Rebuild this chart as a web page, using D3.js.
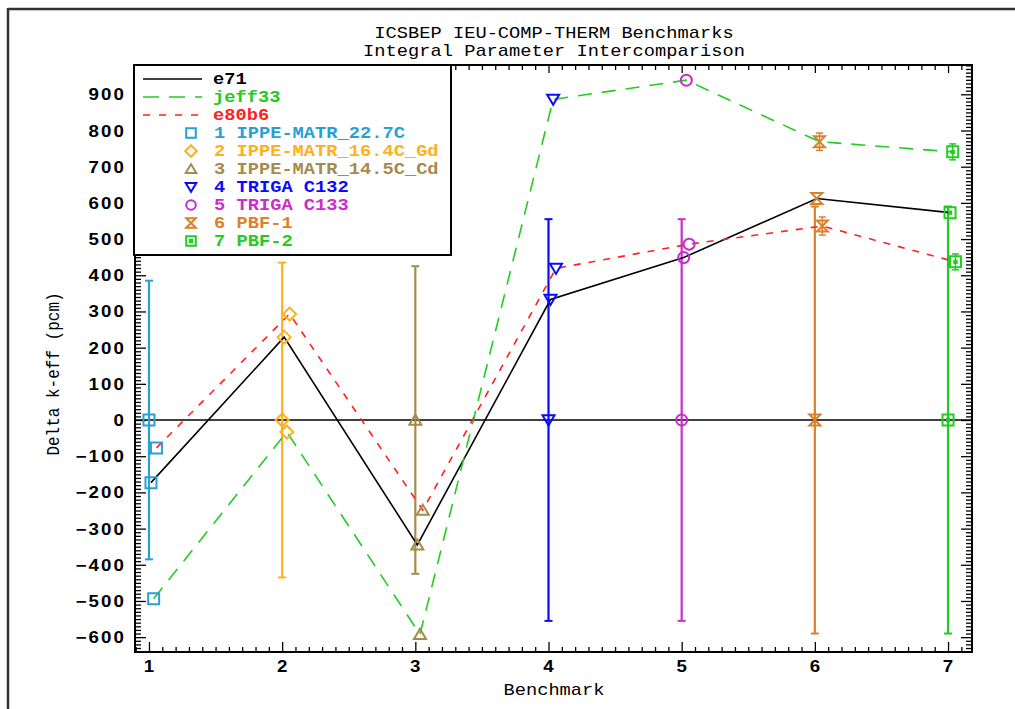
<!DOCTYPE html>
<html><head><meta charset="utf-8">
<script src="https://cdn.jsdelivr.net/npm/d3@7"></script>
<style>html,body{margin:0;padding:0;background:#fff;}svg{display:block;}</style>
</head><body>
<svg id="chart" width="1015" height="709"></svg>
<script>
// ---------- data ----------
const benchmarks = [1, 2, 3, 4, 5, 6, 7];
const benchNames = ["IPPE-MATR_22.7C", "IPPE-MATR_16.4C_Gd", "IPPE-MATR_14.5C_Cd", "TRIGA C132", "TRIGA C133", "PBF-1", "PBF-2"];
const benchColors = ["#2a9fd6", "#ffb020", "#a58c4c", "#0a0aff", "#cc2ccc", "#d9822b", "#22cc22"];
const expValues = [0, 0, 0, 0, 0, 0, 0];
const expErrors = [385, 435, 425, 555, 555, 590, 590];
const e71Values = [-173, 229, -345, 333, 449, 612, 573];
const jeff33Values = [-494, -33, -592, 886, 939, 769, 741];
const jeff33Errors = [0, 0, 0, 0, 0, 24, 22];
const e80b6Values = [-77, 293, -249, 419, 486, 536, 437];
const e80b6Errors = [0, 0, 0, 0, 0, 25, 22];
const seriesNames = ["e71", "jeff33", "e80b6"];
const seriesColors = ["#000000", "#22cc22", "#ff2020"];
const yTickLabels = [-600, -500, -400, -300, -200, -100, 0, 100, 200, 300, 400, 500, 600, 700, 800, 900];
const xTickLabels = [1, 2, 3, 4, 5, 6, 7];
const titleLines = ["ICSBEP IEU-COMP-THERM Benchmarks", "Integral Parameter Intercomparison"];

// ---------- layout ----------
const svg = d3.select("#chart");
const L = 135, R = 972, T = 65, B = 652;
const SX = 1.17; // horizontal stretch of the original fonts
const x = d3.scaleLinear().domain([0.895, 7.18]).range([L, R]);
const y = d3.scaleLinear().domain([-641, 981]).range([B, T]);
const seriesOffset = [0.015, 0.035, 0.056];
const MONO = "'Liberation Mono', 'DejaVu Sans Mono', monospace";

function stext(g, px, py, str, opts) {
  opts = opts || {};
  const grp = g.append("g").attr("transform", `translate(${px},${py}) scale(${SX},1)` + (opts.rotate ? ` rotate(${opts.rotate})` : ""));
  const t = grp.append("text").attr("x", 0).attr("y", 0)
    .attr("font-family", opts.family || MONO)
    .attr("font-size", opts.size || 16)
    .attr("font-weight", opts.weight || "normal")
    .attr("fill", opts.fill || "#000")
    .attr("text-anchor", opts.anchor || "start")
    .text(str);
  if (opts.spacing) t.attr("letter-spacing", opts.spacing);
  return t;
}

function markerPath(i, s) {
  switch (i) {
    case 0: return `M${-s},${-s}H${s}V${s}H${-s}Z`;
    case 1: return `M0,${-s - 1}L${s + 1},0L0,${s + 1}L${-s - 1},0Z`;
    case 2: return `M0,${-s}L${s + 0.5},${s * 0.85}L${-s - 0.5},${s * 0.85}Z`;
    case 3: return `M${-s - 0.5},${-s * 0.85}L${s + 0.5},${-s * 0.85}L0,${s}Z`;
    case 4: return `M${-s},0A${s},${s} 0 1,0 ${s},0A${s},${s} 0 1,0 ${-s},0Z`;
    case 5: return `M${-s},${-s}H${s}L${-s},${s}H${s}Z`;
    case 6: return `M${-s},${-s}H${s}V${s}H${-s}Z M-1.2,-1.2H1.2V1.2H-1.2Z`;
  }
}
function drawMarker(g, i, cx, cy, s) {
  g.append("path").attr("d", markerPath(i, s || 5.5))
    .attr("transform", `translate(${cx},${cy})`)
    .attr("fill", "none").attr("stroke", benchColors[i]).attr("stroke-width", 2);
}

// ---------- outer frame ----------
svg.append("line").attr("x1", 8).attr("x2", 8).attr("y1", 8).attr("y2", 709).attr("stroke", "#333").attr("stroke-width", 2.5);
svg.append("line").attr("x1", 8).attr("x2", 1015).attr("y1", 9).attr("y2", 9).attr("stroke", "#333").attr("stroke-width", 2.5);

// ---------- title ----------
titleLines.forEach((s, k) => stext(svg, 554, 38 + k * 18, s, { anchor: "middle", size: 16 }));

// ---------- axes ticks ----------
const majY = yTickLabels;
const minY = d3.range(-640, 981, 10).filter(v => v % 100 !== 0);
const majX = xTickLabels;
const minX = d3.range(9, 72, 1).map(v => v / 10).filter(v => Math.abs(v - Math.round(v)) > 1e-6);

function tickAxis(axisFn, scale, vals, size, tr) {
  const g = svg.append("g").attr("transform", tr)
    .call(axisFn(scale).tickValues(vals).tickSize(-size).tickFormat(""));
  g.select(".domain").remove();
  g.selectAll("line").attr("stroke", "#000").attr("stroke-width", 1.3);
}
tickAxis(d3.axisLeft, y, majY, 11, `translate(${L},0)`);
tickAxis(d3.axisLeft, y, minY, 6, `translate(${L},0)`);
tickAxis(d3.axisRight, y, majY, 11, `translate(${R},0)`);
tickAxis(d3.axisRight, y, minY, 6, `translate(${R},0)`);
tickAxis(d3.axisBottom, x, majX, 10, `translate(0,${B})`);
tickAxis(d3.axisBottom, x, minX, 5, `translate(0,${B})`);
tickAxis(d3.axisTop, x, majX, 8, `translate(0,${T})`);
tickAxis(d3.axisTop, x, minX, 5, `translate(0,${T})`);

// tick labels
yTickLabels.forEach(v => stext(svg, 126, y(v) + 6, v < 0 ? "\u2212" + Math.abs(v) : String(v),
  { anchor: "end", family: "'Liberation Sans', Arial, sans-serif", weight: "bold", size: 16, spacing: 1.8 }));
xTickLabels.forEach(v => stext(svg, x(v), 672, String(v),
  { anchor: "middle", family: "'Liberation Sans', Arial, sans-serif", weight: "bold", size: 16 }));

// axis titles
stext(svg, 554, 695, "Benchmark", { anchor: "middle", size: 16 });
stext(svg, 59, 374, "Delta k-eff (pcm)", { anchor: "middle", size: 16, rotate: -90 });

// ---------- plot ----------
const plot = svg.append("g");
// zero line
plot.append("line").attr("x1", L).attr("x2", R).attr("y1", y(0)).attr("y2", y(0))
  .attr("stroke", "#000").attr("stroke-width", 1.5);

// experimental error bars
benchmarks.forEach((b, i) => {
  const cx = x(b), c = benchColors[i];
  const y1 = y(expValues[i] + expErrors[i]), y2 = y(expValues[i] - expErrors[i]);
  plot.append("line").attr("x1", cx).attr("x2", cx).attr("y1", y1).attr("y2", y2).attr("stroke", c).attr("stroke-width", 2.2);
  [y1, y2].forEach(yy => plot.append("line").attr("x1", cx - 4).attr("x2", cx + 4).attr("y1", yy).attr("y2", yy).attr("stroke", c).attr("stroke-width", 2));
});

// calculated series lines
const seriesVals = [e71Values, jeff33Values, e80b6Values];
const seriesErrs = [null, jeff33Errors, e80b6Errors];
const dashes = [null, "14,10", "7,8"];
seriesVals.forEach((vals, k) => {
  const line = d3.line().x((d, i) => x(benchmarks[i] + seriesOffset[k])).y(d => y(d));
  const p = plot.append("path").datum(vals).attr("d", line).attr("fill", "none")
    .attr("stroke", seriesColors[k]).attr("stroke-width", 1.6);
  if (dashes[k]) p.attr("stroke-dasharray", dashes[k]);
});

// small error bars on calculated points
seriesVals.forEach((vals, k) => {
  if (!seriesErrs[k]) return;
  vals.forEach((v, i) => {
    const e = seriesErrs[k][i];
    if (!e) return;
    const cx = x(benchmarks[i] + seriesOffset[k]), c = benchColors[i];
    plot.append("line").attr("x1", cx).attr("x2", cx).attr("y1", y(v + e)).attr("y2", y(v - e)).attr("stroke", c).attr("stroke-width", 1.5);
    [y(v + e), y(v - e)].forEach(yy => plot.append("line").attr("x1", cx - 3.5).attr("x2", cx + 3.5).attr("y1", yy).attr("y2", yy).attr("stroke", c).attr("stroke-width", 1.5));
  });
});

// markers: experiment at zero and the three libraries
benchmarks.forEach((b, i) => drawMarker(plot, i, x(b), y(expValues[i])));
seriesVals.forEach((vals, k) => vals.forEach((v, i) => drawMarker(plot, i, x(benchmarks[i] + seriesOffset[k]), y(v))));

// plot frame
svg.append("rect").attr("x", L).attr("y", T).attr("width", R - L).attr("height", B - T)
  .attr("fill", "none").attr("stroke", "#000").attr("stroke-width", 2);

// ---------- legend ----------
const lg = svg.append("g");
lg.append("rect").attr("x", 134).attr("y", T).attr("width", 317).attr("height", 190)
  .attr("fill", "#fff").attr("stroke", "#000").attr("stroke-width", 2);
seriesNames.forEach((n, k) => {
  const yy = 79 + k * 18;
  const l = lg.append("line").attr("x1", 143).attr("x2", 202).attr("y1", yy).attr("y2", yy)
    .attr("stroke", seriesColors[k]).attr("stroke-width", 1.6);
  if (dashes[k]) l.attr("stroke-dasharray", k === 1 ? "16,10" : "7,9");
  stext(lg, 213, yy + 5, n, { fill: seriesColors[k], weight: "bold", size: 16 });
});
benchNames.forEach((n, i) => {
  const yy = 133 + i * 18;
  drawMarker(lg, i, 191, yy, 4.8);
  stext(lg, 214, yy + 5, (i + 1) + " " + n, { fill: benchColors[i], weight: "bold", size: 16 });
});
</script>
</body></html>
